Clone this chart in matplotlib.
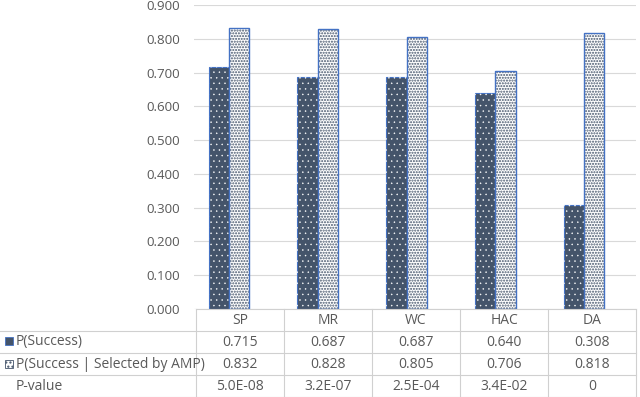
import matplotlib
matplotlib.use('Agg')
import matplotlib.pyplot as plt
from matplotlib.patches import Rectangle
import numpy as np

plt.rcParams['font.family'] = ['Open Sans', 'DejaVu Sans']
plt.rcParams['hatch.linewidth'] = 1.0

categories = ['SP', 'MR', 'WC', 'HAC', 'DA']
p_success = [0.715, 0.687, 0.687, 0.640, 0.308]
p_selected = [0.832, 0.828, 0.805, 0.706, 0.818]
p_value = ['5.0E-08', '3.2E-07', '2.5E-04', '3.4E-02', '0']
row_labels = ['P(Success)', 'P(Success | Selected by AMP)', 'P-value']

dark = '#44546A'
edge = '#4472C4'
txt = '#595959'
grid = '#D9D9D9'

W, H = 640, 397
fig = plt.figure(figsize=(W / 100, H / 100), dpi=100)
x0, x1 = 194, 636
ytop, ybot = 5, 309
ax = fig.add_axes([x0 / W, 1 - ybot / H, (x1 - x0) / W, (ybot - ytop) / H])

x = np.arange(len(categories))
bw = 0.225
ax.bar(x - bw / 2, p_success, bw, color=dark, edgecolor=edge, linewidth=0.8, zorder=2)
with plt.rc_context({'hatch.linewidth': 0.3}):
    ax.bar(x - bw / 2, p_success, bw, color='none', edgecolor='white', hatch='...', linewidth=0, zorder=3)
with plt.rc_context({'hatch.linewidth': 1.0}):
    ax.bar(x + bw / 2, p_selected, bw, color='white', edgecolor=dark, hatch='......', linewidth=0, zorder=2)
ax.bar(x + bw / 2, p_selected, bw, color='none', edgecolor=edge, linewidth=1.0, zorder=3)

ax.set_xlim(-0.388, 4.579)
ax.set_ylim(0, 0.9)
ax.set_yticks(np.arange(0, 0.91, 0.1))
ax.set_yticklabels(['{:.3f}'.format(v) for v in np.arange(0, 0.91, 0.1)])
ax.tick_params(axis='y', length=0, pad=10, labelsize=9.6, labelcolor=txt)
ax.set_xticks([])
ax.grid(axis='y', color=grid, linewidth=0.8, zorder=0)
for s in ax.spines.values():
    s.set_visible(False)

# data table below the chart
t0 = 196
col_w = (x1 - t0) / len(categories)
rows_y = [309, 331, 353, 375, 397]

def fx(px):
    return px / W

def fy(py):
    return 1 - py / H

lc = '#D0D0D0'
fs = 10
fig.add_artist(plt.Line2D([fx(t0), fx(x1)], [fy(309), fy(309)], color=lc, lw=0.8))
for yy in rows_y[1:]:
    fig.add_artist(plt.Line2D([0, fx(x1)], [fy(yy), fy(yy)], color=lc, lw=0.8))
for i in range(len(categories) + 1):
    xx = t0 + i * col_w
    fig.add_artist(plt.Line2D([fx(xx), fx(xx)], [fy(309), fy(397)], color=lc, lw=0.8))

for i, c in enumerate(categories):
    cx = t0 + (i + 0.5) * col_w
    fig.text(fx(cx), fy(320), c, ha='center', va='center', fontsize=fs, color=txt)
    fig.text(fx(cx), fy(342), '{:.3f}'.format(p_success[i]), ha='center', va='center', fontsize=fs, color=txt)
    fig.text(fx(cx), fy(364), '{:.3f}'.format(p_selected[i]), ha='center', va='center', fontsize=fs, color=txt)
    fig.text(fx(cx), fy(386), p_value[i], ha='center', va='center', fontsize=fs, color=txt)

# legend keys
k = 8
fig.add_artist(Rectangle((fx(5), fy(345)), k / W, k / H, facecolor=dark, edgecolor=edge, lw=0.6))
fig.add_artist(Rectangle((fx(5), fy(368)), k / W, k / H, facecolor='white', edgecolor=dark, hatch='....', lw=0.6))
fig.text(fx(16), fy(342), row_labels[0], ha='left', va='center', fontsize=fs, color=txt)
fig.text(fx(16), fy(364), row_labels[1], ha='left', va='center', fontsize=fs, color=txt)
fig.text(fx(16), fy(386), row_labels[2], ha='left', va='center', fontsize=fs, color=txt)

fig.savefig('out.png', dpi=100)
